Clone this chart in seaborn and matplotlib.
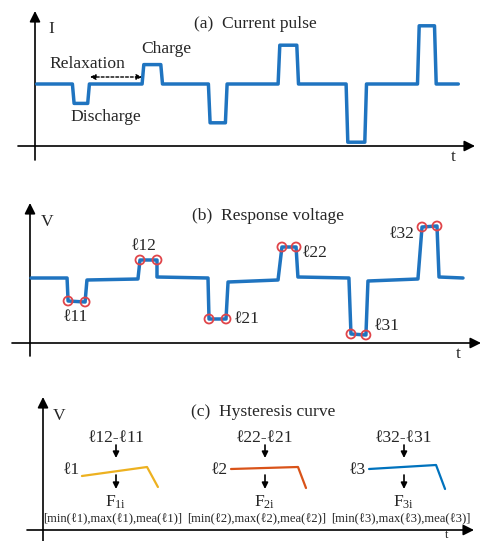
import matplotlib
matplotlib.use("Agg")
import matplotlib.pyplot as plt
import seaborn as sns
import pandas as pd

# ---------------- data ----------------
# (a) current pulse: time breakpoints and current level (relative units)
time_a = [0.1, 2.2, 2.3, 3.1, 3.2, 6.3, 6.4, 7.4, 7.5, 10.2, 10.3, 11.2, 11.3,
          14.3, 14.4, 15.4, 15.5, 18.3, 18.4, 19.4, 19.5, 22.5, 22.6, 23.5, 23.6, 24.9]
current = [0, 0, -1, -1, 0, 0, 1, 1, 0, 0, -2, -2, 0, 0, 2, 2, 0, 0, -3, -3, 0, 0, 3, 3, 0, 0]

# (b) response voltage
time_b = [0.06, 2.18, 2.24, 3.24, 3.35, 6.35, 6.47, 7.47, 7.47, 10.47, 10.53, 11.53, 11.65,
          14.59, 14.82, 15.65, 15.76, 18.76, 18.88, 19.76, 19.88, 22.82, 23.06, 23.94, 24.06, 25.47]
voltage = [0, 0, -1.15, -1.2, -0.1, -0.05, 0.9, 0.9, 0.05, 0, -2.05, -2.05, -0.2,
           -0.1, 1.55, 1.55, 0.05, 0, -2.8, -2.85, -0.15, -0.05, 2.55, 2.6, 0.05, 0]
plateau_idx = [2, 3, 6, 7, 10, 11, 14, 15, 18, 19, 22, 23]
plateau_labels = ["ℓ11", "ℓ12", "ℓ21", "ℓ22", "ℓ31", "ℓ32"]

# (c) hysteresis curves
curve_t = {"ℓ1": [2.29, 6.12, 6.76], "ℓ2": [11.06, 15.0, 15.47], "ℓ3": [19.18, 23.12, 23.65]}
curve_v = {"ℓ1": [2.7, 3.15, 2.15], "ℓ2": [3.05, 3.15, 2.1], "ℓ3": [3.05, 3.25, 2.05]}
curve_colors = {"ℓ1": "#EDB120", "ℓ2": "#D95319", "ℓ3": "#0072BD"}
diff_labels = ["ℓ12-ℓ11", "ℓ22-ℓ21", "ℓ32-ℓ31"]
feat_labels = [r"F$_{\mathrm{1i}}$", r"F$_{\mathrm{2i}}$", r"F$_{\mathrm{3i}}$"]
bracket_labels = ["[min(ℓ1),max(ℓ1),mea(ℓ1)]", "[min(ℓ2),max(ℓ2),mea(ℓ2)]",
                  "[min(ℓ3),max(ℓ3),mea(ℓ3)]"]

# ---------------- style ----------------
sns.set_theme(style="white")
plt.rcParams["font.family"] = ["Liberation Serif", "DejaVu Serif"]
plt.rcParams["mathtext.fontset"] = "custom"
plt.rcParams["mathtext.rm"] = "Liberation Serif"
plt.rcParams["mathtext.it"] = "Liberation Serif:italic"

W, H = 482, 541
fig = plt.figure(figsize=(W / 100, H / 100), dpi=100)
fig.patch.set_facecolor("white")

BLUE = "#1F74C0"
RED = "#E0454A"


def panel_axes(box, x0, sx, y0, sy):
    l, t, r, b = box
    ax = fig.add_axes([l / W, 1 - b / H, (r - l) / W, (b - t) / H])
    ax.set_xlim((l - x0) / sx, (r - x0) / sx)
    ax.set_ylim((y0 - b) / sy, (y0 - t) / sy)
    ax.axis("off")
    ax.patch.set_alpha(0)
    return ax


# overlay in pixel coordinates for axes arrows and labels
ov = fig.add_axes([0, 0, 1, 1])
ov.set_xlim(0, W)
ov.set_ylim(H, 0)
ov.axis("off")
ov.patch.set_alpha(0)


def axis_arrow(x1, y1, x2, y2):
    ov.annotate("", xy=(x2, y2), xytext=(x1, y1),
                arrowprops=dict(arrowstyle="-|>", lw=1.2, color="black",
                                mutation_scale=16, shrinkA=0, shrinkB=0))


def small_arrow(x, y1, y2):
    ov.annotate("", xy=(x, y2), xytext=(x, y1),
                arrowprops=dict(arrowstyle="-|>", lw=1.2, color="black",
                                mutation_scale=9, shrinkA=0, shrinkB=0))


FS = 12.6

# ---------- panel (a) ----------
axa = panel_axes((0, 0, W, 170), 35, 17, 84, 19.4)
sns.lineplot(x=time_a, y=current, ax=axa, color=BLUE, lw=2.5, sort=False,
             estimator=None, legend=False)
axis_arrow(35, 160, 35, 11)
axis_arrow(18, 146, 475, 146)
ov.text(51, 29, "I", fontsize=FS, ha="center", va="center")
ov.text(453, 157, "t", fontsize=FS, ha="center", va="center")
ov.text(255, 24, "(a)  Current pulse", fontsize=FS, ha="center", va="center")
ov.text(87, 64, "Relaxation", fontsize=FS, ha="center", va="center")
ov.text(166, 49, "Charge", fontsize=FS, ha="center", va="center")
ov.text(106, 117, "Discharge", fontsize=FS, ha="center", va="center")
ov.annotate("", xy=(142, 77), xytext=(90, 77),
            arrowprops=dict(arrowstyle="<|-|>", lw=1.0, ls=(0, (2, 1.5)), color="black",
                            mutation_scale=8, shrinkA=0, shrinkB=0))

# ---------- panel (b) ----------
axb = panel_axes((0, 190, W, 370), 30, 17, 278, 20)
sns.lineplot(x=time_b, y=voltage, ax=axb, color=BLUE, lw=2.5, sort=False,
             estimator=None, legend=False)
df_pts = pd.DataFrame({"t": [time_b[i] for i in plateau_idx],
                       "v": [voltage[i] for i in plateau_idx]})
sns.scatterplot(data=df_pts, x="t", y="v", ax=axb, s=42, facecolor="none",
                edgecolor=RED, linewidth=1.3, zorder=5, legend=False)
axis_arrow(30, 356, 30, 203)
axis_arrow(12, 343, 481, 343)
ov.text(47, 222, "V", fontsize=FS, ha="center", va="center")
ov.text(458, 354, "t", fontsize=FS, ha="center", va="center")
ov.text(268, 216, "(b)  Response voltage", fontsize=FS, ha="center", va="center")
lab_pos = [(76, 317), (144, 246), (247, 319), (315, 253), (387, 326), (402, 234)]
for lab, (x, y) in zip(plateau_labels, lab_pos):
    ov.text(x, y, lab, fontsize=FS, ha="center", va="center")

# ---------- panel (c) ----------
axc = panel_axes((0, 390, W, H), 43, 17, 530, 20)
for name in curve_t:
    sns.lineplot(x=curve_t[name], y=curve_v[name], ax=axc, color=curve_colors[name],
                 lw=1.6, sort=False, estimator=None, legend=False)
axis_arrow(43, 541, 43, 397)
axis_arrow(27, 530, 474, 530)
ov.text(59, 416, "V", fontsize=FS, ha="center", va="center")
ov.text(447, 535, "t", fontsize=9, ha="center", va="center")
ov.text(263, 412, "(c)  Hysteresis curve", fontsize=FS, ha="center", va="center")
col_x = [116, 265, 404]
name_pos = [(72, 470), (220, 470), (357, 470)]
bracket_x = [113, 257, 401]
for i, name in enumerate(curve_t):
    ov.text(col_x[i], 438, diff_labels[i], fontsize=FS, ha="center", va="center")
    small_arrow(col_x[i], 445, 458)
    ov.text(name_pos[i][0], name_pos[i][1], name, fontsize=FS, ha="center", va="center")
    small_arrow(col_x[i], 475, 489)
    ov.text(col_x[i], 502, feat_labels[i], fontsize=FS, ha="center", va="center")
    ov.text(bracket_x[i], 518, bracket_labels[i], fontsize=9.1, ha="center", va="center")

fig.savefig("out.png", dpi=100, facecolor="white")
